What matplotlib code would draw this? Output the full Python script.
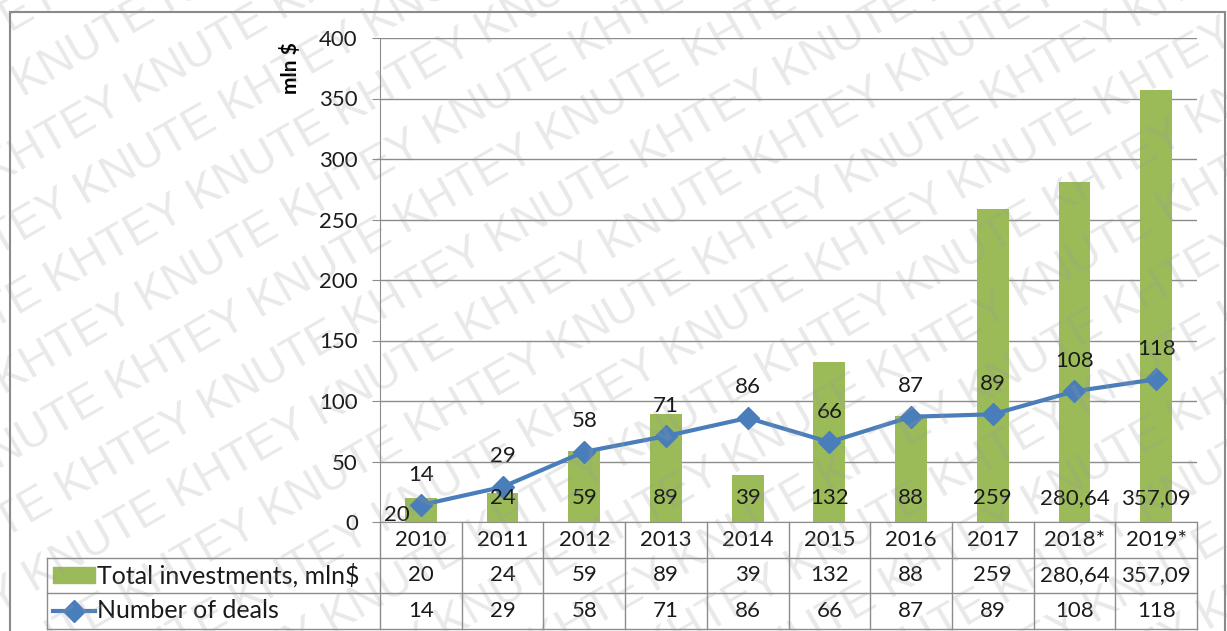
import numpy as np
import matplotlib
matplotlib.use("Agg")
import matplotlib.pyplot as plt
from matplotlib.patches import Rectangle
from matplotlib.lines import Line2D

# ---- data ----
years = ["2010", "2011", "2012", "2013", "2014", "2015", "2016", "2017", "2018*", "2019*"]
investments = [20, 24, 59, 89, 39, 132, 88, 259, 280.64, 357.09]
deals = [14, 29, 58, 71, 86, 66, 87, 89, 108, 118]
series_names = ["Total investments, mln$", "Number of deals"]
y_ticks = [0, 50, 100, 150, 200, 250, 300, 350, 400]


def fmt(v):
    return f"{v:g}".replace(".", ",")


plt.rcParams["font.family"] = ["Lato", "DejaVu Sans"]
BAR = "#9BBB59"
LINE = "#4A7EBB"
GRID = "#8C8C8C"
TXT = "#1a1a1a"
FS = 16

W, H = 1227, 631
fig = plt.figure(figsize=(W / 100, H / 100), dpi=100)
fig.patch.set_facecolor("white")

ax_l, ax_r, ax_b, ax_t = 380, 1197, 522, 38
ax = fig.add_axes([ax_l / W, 1 - ax_b / H, (ax_r - ax_l) / W, (ax_b - ax_t) / H])
ax_h_px = ax_b - ax_t

x = np.arange(len(years))
ax.bar(x, investments, width=0.39, color=BAR, zorder=2)
ax.plot(x, deals, color=LINE, lw=3, marker="D", ms=11, zorder=3)

ax.set_xlim(-0.5, len(years) - 0.5)
ax.set_ylim(y_ticks[0], y_ticks[-1])
ax.set_yticks(y_ticks)
ax.set_xticks([])
ax.yaxis.grid(True, color=GRID, lw=1)
ax.set_axisbelow(True)
for s in ["top", "right"]:
    ax.spines[s].set_visible(False)
ax.spines["left"].set_color(GRID)
ax.spines["bottom"].set_color(GRID)
ax.tick_params(axis="y", direction="out", length=6, color=GRID, pad=10,
               labelsize=FS, labelcolor=TXT)
ax.set_facecolor("none")

fig.text(290 / W, 1 - 68 / H, "mln $", rotation=90, ha="center", va="center",
         fontsize=15, fontweight="bold", color="black")

# value labels for bars (inside base) and line (above markers)
for i, v in enumerate(investments):
    dx, dy = (-17, 5) if i == 0 else (0, 17)
    ax.annotate(fmt(v), (x[i], 0), xytext=(dx, dy), textcoords="offset points",
                ha="center", va="center", fontsize=FS, color=TXT, zorder=4)
for i, v in enumerate(deals):
    ax.annotate(fmt(v), (x[i], v), xytext=(0, 22), textcoords="offset points",
                ha="center", va="center", fontsize=FS, color=TXT, zorder=4)

# ---- data table under the plot ----
tr = ax.get_xaxis_transform()
row_h = 35.5 / ax_h_px
n = len(years)
x_left = -0.5 - (333 / (ax_r - ax_l)) * n
lk = dict(transform=tr, clip_on=False, color=GRID, lw=1)
for k in range(n + 1):
    ax.add_line(Line2D([k - 0.5, k - 0.5], [0, -3 * row_h], **lk))
for r in (1, 2, 3):
    ax.add_line(Line2D([x_left, n - 0.5], [-r * row_h, -r * row_h], **lk))
ax.add_line(Line2D([x_left, x_left], [-row_h, -3 * row_h], **lk))

tk = dict(transform=tr, ha="center", va="center", fontsize=FS, color=TXT, clip_on=False)
for i in range(n):
    ax.text(x[i], -0.5 * row_h, years[i], **tk)
    ax.text(x[i], -1.5 * row_h, fmt(investments[i]), **tk)
    ax.text(x[i], -2.5 * row_h, fmt(deals[i]), **tk)

px = n / (ax_r - ax_l)  # data units per pixel along x
key_x0, key_x1 = x_left + 6 * px, x_left + 48 * px
key_h = 16 / ax_h_px
ax.add_patch(Rectangle((key_x0, -1.5 * row_h - key_h / 2), key_x1 - key_x0, key_h,
                       transform=tr, clip_on=False, color=BAR))
ax.add_line(Line2D([key_x0, key_x1], [-2.5 * row_h] * 2, transform=tr, clip_on=False,
                   color=LINE, lw=3))
ax.add_line(Line2D([(key_x0 + key_x1) / 2], [-2.5 * row_h], transform=tr, clip_on=False,
                   color=LINE, marker="D", ms=11, lw=0))
for r, name in enumerate(series_names):
    ax.text(x_left + 50 * px, -(1.5 + r) * row_h, name, transform=tr, ha="left",
            va="center", fontsize=18, color=TXT, clip_on=False)

# ---- chart frame ----
fig.add_artist(Rectangle((10 / W, -0.1), 1215 / W, 1.1 - 12 / H, transform=fig.transFigure,
                         fill=False, edgecolor="#8A8A8A", lw=1.5, zorder=0))

# ---- diagonal watermark ----
ang = np.deg2rad(30)
u = np.array([np.cos(ang), np.sin(ang)])
nrm = np.array([-np.sin(ang), np.cos(ang)])
center = np.array([W / 2, H / 2])
mark = "KHTEY KNUTE " * 10
for k in range(-14, 15):
    p = center + k * 62 * nrm - 900 * u + (k % 2) * 95 * u
    fig.text(p[0] / W, p[1] / H, mark, rotation=30, rotation_mode="anchor",
             ha="left", va="center", fontsize=33, family="Liberation Sans",
             color=(0.6, 0.6, 0.6), alpha=0.22, zorder=10)

fig.savefig("out.png", dpi=100)
